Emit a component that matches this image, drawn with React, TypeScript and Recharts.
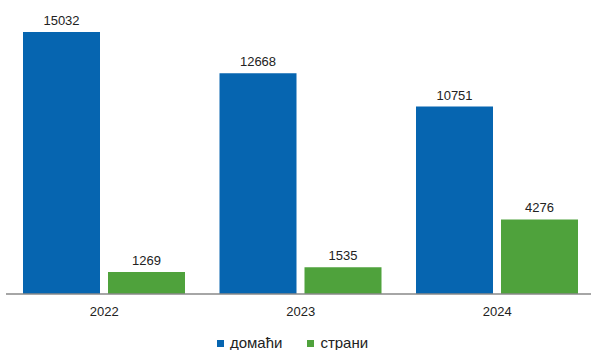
import React from "react";
import { BarChart, Bar, XAxis, YAxis, LabelList, Legend } from "recharts";

const years = ["2022", "2023", "2024"];
const domestic = [15032, 12668, 10751];
const foreign = [1269, 1535, 4276];
const seriesNames = ["домаћи", "страни"];
const colors = ["#0665b0", "#4fa23c"];

const data = years.map((y, i) => ({ year: y, d: domestic[i], f: foreign[i] }));

const FONT = "'Liberation Sans', Arial, sans-serif";

const LegendContent = () => (
  <div
    style={{
      display: "flex",
      justifyContent: "center",
      width: 585,
      fontFamily: FONT,
      fontSize: 15,
      lineHeight: "16px",
      color: "#222",
    }}
  >
    {seriesNames.map((n, i) => (
      <div key={n} style={{ display: "flex", alignItems: "center", marginRight: i === 0 ? 25 : 0 }}>
        <span style={{ display: "inline-block", width: 7, height: 7, background: colors[i], marginRight: 6 }} />
        <span>{n}</span>
      </div>
    ))}
  </div>
);

export default function App() {
  return (
    <div style={{ position: "absolute", left: 0, top: 0, width: 600, height: 350, background: "#fff" }}>
      <BarChart
        width={600}
        height={350}
        data={data}
        margin={{ top: 32, right: 4.5, left: 6, bottom: 0 }}
        barCategoryGap={17}
        barGap={8}
      >
        <XAxis
          dataKey="year"
          height={40}
          tickLine={false}
          tickSize={0}
          tickMargin={13}
          axisLine={{ stroke: "#898989", strokeWidth: 1.5 }}
          tick={{ fill: "#222", fontSize: 13, fontFamily: FONT }}
        />
        <YAxis hide domain={[0, "dataMax"]} />
        <Legend
          verticalAlign="bottom"
          height={16}
          content={<LegendContent />}
          wrapperStyle={{ left: 0, top: 335, width: 585 }}
        />
        <Bar dataKey="d" name={seriesNames[0]} fill={colors[0]} isAnimationActive={false}>
          <LabelList dataKey="d" position="top" offset={7} style={{ fill: "#222", fontSize: 13, fontFamily: FONT }} />
        </Bar>
        <Bar dataKey="f" name={seriesNames[1]} fill={colors[1]} isAnimationActive={false}>
          <LabelList dataKey="f" position="top" offset={7} style={{ fill: "#222", fontSize: 13, fontFamily: FONT }} />
        </Bar>
      </BarChart>
    </div>
  );
}
